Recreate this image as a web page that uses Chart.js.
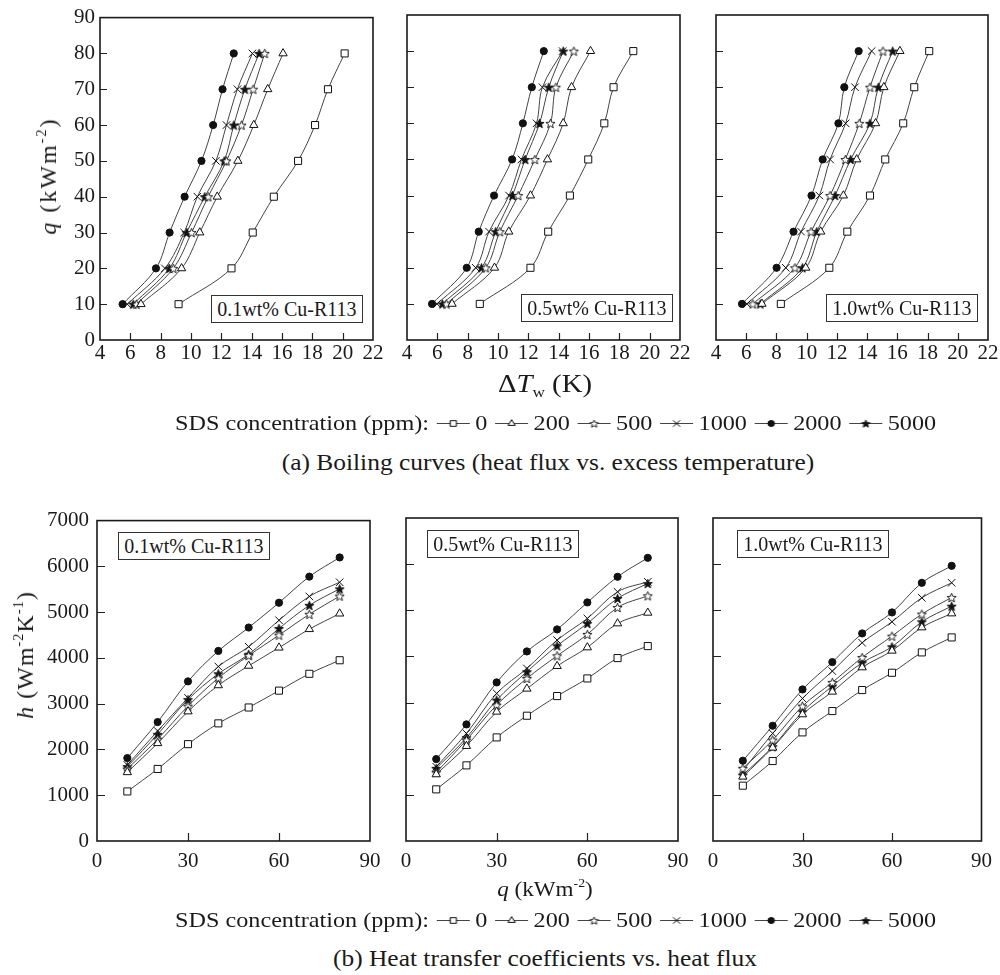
<!DOCTYPE html>
<html><head><meta charset="utf-8">
<script src="https://cdn.jsdelivr.net/npm/chart.js@4/dist/chart.umd.min.js"></script>
<style>
html,body{margin:0;padding:0;background:#fff;}
body{width:1000px;height:975px;position:relative;overflow:hidden;font-family:'Liberation Serif','Times New Roman',serif;color:#1a1a1a;}
canvas.p{position:absolute;}
.box{position:absolute;border:1px solid #333;background:#fff;font-size:20px;line-height:1;display:flex;align-items:center;justify-content:center;box-sizing:border-box;white-space:nowrap;}
.t{position:absolute;white-space:nowrap;line-height:1;}
.t sup{font-size:60%;vertical-align:0.7em;line-height:0;}
.t sub{font-size:60%;vertical-align:-0.35em;line-height:0;}
.legend{position:absolute;display:flex;align-items:center;white-space:nowrap;font-size:22px;line-height:1;transform-origin:left center;transform:scaleX(1.1);}
.legend canvas{display:block;margin:0 5px 0 7px;}
</style>
</head><body>
<script>
// ---------------- DATA ----------------
const qLevels = [10, 20, 30, 40, 50, 60, 70, 80];          // heat flux q (kW m^-2)
const sdsLabels = ['0', '200', '500', '1000', '2000', '5000']; // SDS concentration (ppm)
const panelNames = ['0.1wt% Cu-R113', '0.5wt% Cu-R113', '1.0wt% Cu-R113'];
const dTTicks = [4, 22, 2];      // min, max, step for excess temperature axis
const qTicks = [0, 90, 10];
const qTicksB = [0, 90, 30];
const hTicks = [0, 7000, 1000];

// (a) wall superheat ΔTw (K) at each q, one row per SDS concentration
const dT_01 = [
  [9.18, 12.67, 14.07, 15.46, 17.06, 18.18, 19.03, 20.13],
  [6.70, 9.38, 10.58, 11.73, 13.09, 14.14, 15.06, 16.07],
  [6.40, 8.83, 10.04, 11.13, 12.34, 13.33, 14.10, 14.86],
  [5.80, 8.28, 9.55, 10.42, 11.64, 12.34, 13.06, 14.05],
  [5.49, 7.69, 8.59, 9.58, 10.69, 11.46, 12.08, 12.82],
  [6.19, 8.57, 9.71, 10.91, 12.19, 12.82, 13.55, 14.49]
];
const dT_05 = [
  [8.80, 12.14, 13.31, 14.74, 15.95, 17.01, 17.62, 18.92],
  [6.97, 9.77, 10.71, 12.14, 13.26, 14.30, 14.85, 16.10],
  [6.60, 9.19, 10.12, 11.33, 12.43, 13.46, 13.82, 15.00],
  [5.98, 8.53, 9.41, 10.73, 11.55, 12.54, 12.93, 14.26],
  [5.65, 7.94, 8.73, 9.74, 10.93, 11.64, 12.23, 13.02],
  [6.33, 8.91, 9.85, 10.95, 11.79, 12.74, 13.35, 14.30]
];
const dT_10 = [
  [8.29, 11.50, 12.69, 14.19, 15.20, 16.39, 17.12, 18.11],
  [7.04, 9.94, 10.93, 12.43, 13.31, 14.56, 15.11, 16.17],
  [6.44, 9.22, 10.29, 11.55, 12.56, 13.48, 14.19, 15.05],
  [6.05, 8.62, 9.63, 10.84, 11.55, 12.58, 13.20, 14.30],
  [5.72, 8.01, 9.13, 10.32, 11.06, 12.10, 12.49, 13.44],
  [6.93, 9.72, 10.67, 11.88, 12.91, 14.19, 14.74, 15.69]
];
// (b) heat transfer coefficient h (W m^-2 K^-1) at each q
const h_01 = [
  [1083, 1574, 2116, 2570, 2917, 3285, 3653, 3949],
  [1502, 2137, 2830, 3401, 3827, 4224, 4628, 4968],
  [1574, 2224, 2946, 3560, 4051, 4498, 4953, 5350],
  [1661, 2404, 3126, 3812, 4245, 4823, 5343, 5653],
  [1812, 2599, 3487, 4152, 4664, 5206, 5776, 6195],
  [1625, 2332, 3090, 3653, 4079, 4643, 5148, 5509]
];
const h_05 = [
  [1119, 1639, 2245, 2715, 3141, 3523, 3964, 4224],
  [1444, 2058, 2801, 3300, 3791, 4195, 4715, 4946],
  [1487, 2188, 2946, 3523, 4014, 4477, 5061, 5314],
  [1610, 2332, 3199, 3740, 4354, 4823, 5401, 5617],
  [1776, 2527, 3437, 4108, 4585, 5170, 5726, 6137],
  [1574, 2238, 3054, 3668, 4231, 4715, 5256, 5581]
];
const h_10 = [
  [1199, 1733, 2354, 2816, 3271, 3646, 4087, 4412],
  [1394, 2022, 2744, 3235, 3762, 4123, 4628, 4931],
  [1574, 2188, 2924, 3437, 3978, 4440, 4917, 5278],
  [1523, 2332, 3090, 3682, 4296, 4751, 5271, 5596],
  [1740, 2498, 3285, 3877, 4498, 4953, 5596, 5964],
  [1430, 2043, 2801, 3357, 3863, 4209, 4751, 5090]
];

// ---------------- STYLES ----------------
Chart.defaults.font.family = "'Liberation Serif','Times New Roman',serif";
Chart.defaults.color = '#1a1a1a';

function starImg(filled, R, r) {
  const c = document.createElement('canvas');
  const s = Math.ceil(R * 2 + 3);
  c.width = s; c.height = s;
  const g = c.getContext('2d');
  const cx = s / 2, cy = s / 2 + 0.5;
  g.beginPath();
  for (let i = 0; i < 10; i++) {
    const rr = i % 2 ? r : R;
    const a = -Math.PI / 2 + i * Math.PI / 5;
    g.lineTo(cx + rr * Math.cos(a), cy + rr * Math.sin(a));
  }
  g.closePath();
  g.fillStyle = filled ? '#111' : '#fff';
  g.fill();
  g.strokeStyle = '#111'; g.lineWidth = 0.9; g.stroke();
  return c;
}
const markers = [
  { pointStyle: 'rect', radius: 5, fill: '#fff' },
  { pointStyle: 'triangle', radius: 4.8, fill: '#fff' },
  { pointStyle: starImg(false, 4.8, 2.1), radius: 5, fill: '#fff' },
  { pointStyle: 'crossRot', radius: 5.3, fill: '#fff' },
  { pointStyle: 'circle', radius: 3.6, fill: '#111' },
  { pointStyle: starImg(true, 4.8, 2.0), radius: 5, fill: '#111' }
];
const legendMarkers = [
  { pointStyle: 'rect', radius: 4, fill: '#fff' },
  { pointStyle: 'triangle', radius: 3.8, fill: '#fff' },
  { pointStyle: starImg(false, 4, 1.8), radius: 4, fill: '#fff' },
  { pointStyle: 'crossRot', radius: 4.5, fill: '#fff' },
  { pointStyle: 'circle', radius: 3, fill: '#111' },
  { pointStyle: starImg(true, 4, 1.7), radius: 4, fill: '#111' }
];

const framePlugin = {
  id: 'frame',
  beforeDatasetsDraw(chart, args, o) {
    const { ctx, chartArea: a, scales: { x, y } } = chart;
    ctx.save();
    ctx.strokeStyle = '#222'; ctx.lineWidth = 1.2;
    ctx.beginPath();
    for (let v = x.min + o.xStep; v < x.max - 1e-9; v += o.xStep) {
      const px = Math.round(x.getPixelForValue(v)) + 0.5;
      ctx.moveTo(px, a.bottom); ctx.lineTo(px, a.bottom - o.xLen);
    }
    for (let v = y.min + o.yStep; v < y.max - 1e-9; v += o.yStep) {
      const py = Math.round(y.getPixelForValue(v)) + 0.5;
      ctx.moveTo(a.left, py); ctx.lineTo(a.left + o.yLen, py);
    }
    ctx.stroke();
    ctx.restore();
  },
  afterDraw(chart) {
    const { ctx, chartArea: a } = chart;
    ctx.save();
    ctx.strokeStyle = '#1a1a1a'; ctx.lineWidth = 1.6;
    ctx.strokeRect(a.left, a.top, a.right - a.left, a.bottom - a.top);
    ctx.restore();
  }
};

function makePanel(p) {
  const cv = document.createElement('canvas');
  cv.className = 'p';
  cv.width = p.w; cv.height = p.h;
  cv.style.left = p.left + 'px'; cv.style.top = p.top + 'px';
  cv.style.width = p.w + 'px'; cv.style.height = p.h + 'px';
  document.body.appendChild(cv);
  const datasets = p.rows.map((row, si) => ({
    label: sdsLabels[si],
    data: qLevels.map((q, i) => p.horiz ? { x: q, y: row[i] } : { x: row[i], y: q }),
    borderColor: '#444',
    borderWidth: 1,
    tension: 0.35,
    pointStyle: markers[si].pointStyle,
    pointRadius: markers[si].radius,
    pointBackgroundColor: markers[si].fill,
    pointBorderColor: '#111',
    pointBorderWidth: 1,
    fill: false
  }));
  new Chart(cv, {
    type: 'line',
    data: { datasets },
    options: {
      responsive: false, animation: false, devicePixelRatio: 1,
      layout: { padding: { left: 0, right: p.padR, top: p.padT, bottom: 0 } },
      plugins: { legend: { display: false }, tooltip: { enabled: false },
        frame: { xStep: p.xr[2], yStep: p.yr[2], xLen: p.tickLen, yLen: p.tickLen } },
      scales: {
        x: { type: 'linear', min: p.xr[0], max: p.xr[1],
          ticks: { stepSize: p.xr[2], padding: p.xPad, font: { size: 21 }, color: '#1a1a1a', maxRotation: 0, autoSkip: false,
            callback: v => String(v) },
          grid: { display: false, drawTicks: false }, border: { display: false },
          afterFit: s => { s.height = p.xH; } },
        y: { type: 'linear', min: p.yr[0], max: p.yr[1],
          ticks: { display: p.showY, stepSize: p.yr[2], padding: p.yPad, font: { size: 21 }, color: '#1a1a1a',
            callback: v => String(v) },
          grid: { display: false, drawTicks: false }, border: { display: false },
          afterFit: s => { s.width = p.yW; } }
      }
    },
    plugins: [framePlugin]
  });
}

// Top row: boiling curves
const topRows = [dT_01, dT_05, dT_10];
const topGeo = [ { L: 100, R: 373 }, { L: 407, R: 680 }, { L: 716, R: 988 } ];
topGeo.forEach((g, i) => {
  const yW = i === 0 ? g.L : 30;
  const left = g.L - yW;
  const w = Math.min(1000 - left, yW + (g.R - g.L) + 17);
  makePanel({ left, top: 0, w, h: 370, yW, xH: 30, padR: w - yW - (g.R - g.L), padT: 15,
    xr: dTTicks, yr: qTicks, showY: i === 0, xPad: 1, yPad: 5, tickLen: 7, rows: topRows[i], horiz: false });
});
// Bottom row: heat transfer coefficients
const botRows = [h_01, h_05, h_10];
const botGeo = [ { L: 97, R: 370 }, { L: 406, R: 678 }, { L: 713, R: 985 } ];
botGeo.forEach((g, i) => {
  const yW = i === 0 ? g.L : 30;
  const left = g.L - yW;
  const w = Math.min(1000 - left, yW + (g.R - g.L) + 20);
  makePanel({ left, top: 500, w, h: 380, yW, xH: 39, padR: w - yW - (g.R - g.L), padT: 18,
    xr: qTicksB, yr: hTicks, showY: i === 0, xPad: 8, yPad: 8, tickLen: 8, rows: botRows[i], horiz: true });
});

// Inset labels
const topBoxes = [ [211, 295], [521, 294], [826, 294] ];
const botBoxes = [ [118, 532], [427, 530], [737, 530] ];
function addBox(x, y, txt) {
  const d = document.createElement('div');
  d.className = 'box';
  d.style.left = x + 'px'; d.style.top = y + 'px';
  d.style.width = '152px'; d.style.height = '28px';
  d.textContent = txt;
  document.body.appendChild(d);
}
topBoxes.forEach((b, i) => addBox(b[0], b[1], panelNames[i]));
botBoxes.forEach((b, i) => addBox(b[0], b[1], panelNames[i]));

// Legends
function addLegend(top) {
  const lg = document.createElement('div');
  lg.className = 'legend';
  lg.style.left = '175px'; lg.style.top = top + 'px';
  const head = document.createElement('span');
  head.textContent = 'SDS concentration (ppm):';
  lg.appendChild(head);
  sdsLabels.forEach((lab, i) => {
    const c = document.createElement('canvas');
    c.width = 30; c.height = 16;
    const g = c.getContext('2d');
    g.strokeStyle = '#444'; g.lineWidth = 1;
    g.beginPath(); g.moveTo(0, 8.5); g.lineTo(30, 8.5); g.stroke();
    g.fillStyle = legendMarkers[i].fill; g.strokeStyle = '#111';
    Chart.helpers.drawPoint(g, { pointStyle: legendMarkers[i].pointStyle, radius: legendMarkers[i].radius, rotation: 0, borderWidth: 1 }, 15, 8.5);
    lg.appendChild(c);
    const s = document.createElement('span');
    s.textContent = lab;
    lg.appendChild(s);
  });
  document.body.appendChild(lg);
}
addLegend(412);
addLegend(909);
</script>
<div class="t" style="left:48px;top:176px;transform:translate(-50%,-50%) rotate(-90deg);font-size:24px;letter-spacing:2px;"><i>q</i> (kWm<sup>-2</sup>)</div>
<div class="t" style="left:25px;top:655px;transform:translate(-50%,-50%) rotate(-90deg);font-size:24px;letter-spacing:1px;"><i>h</i> (Wm<sup>-2</sup>K<sup>-1</sup>)</div>
<div class="t" style="left:545px;top:383px;transform:translate(-50%,-50%) scaleX(1.15);font-size:25px;">Δ<i>T</i><sub>w</sub> (K)</div>
<div class="t" style="left:545px;top:889px;transform:translate(-50%,-50%) scaleX(1.05);font-size:22px;"><i>q</i> (kWm<sup>-2</sup>)</div>
<div class="t" style="left:548px;top:462px;transform:translate(-50%,-50%) scaleX(1.06);font-size:24px;">(a) Boiling curves (heat flux vs. excess temperature)</div>
<div class="t" style="left:545px;top:958px;transform:translate(-50%,-50%) scaleX(1.06);font-size:24px;">(b) Heat transfer coefficients vs. heat flux</div>
</body></html>
